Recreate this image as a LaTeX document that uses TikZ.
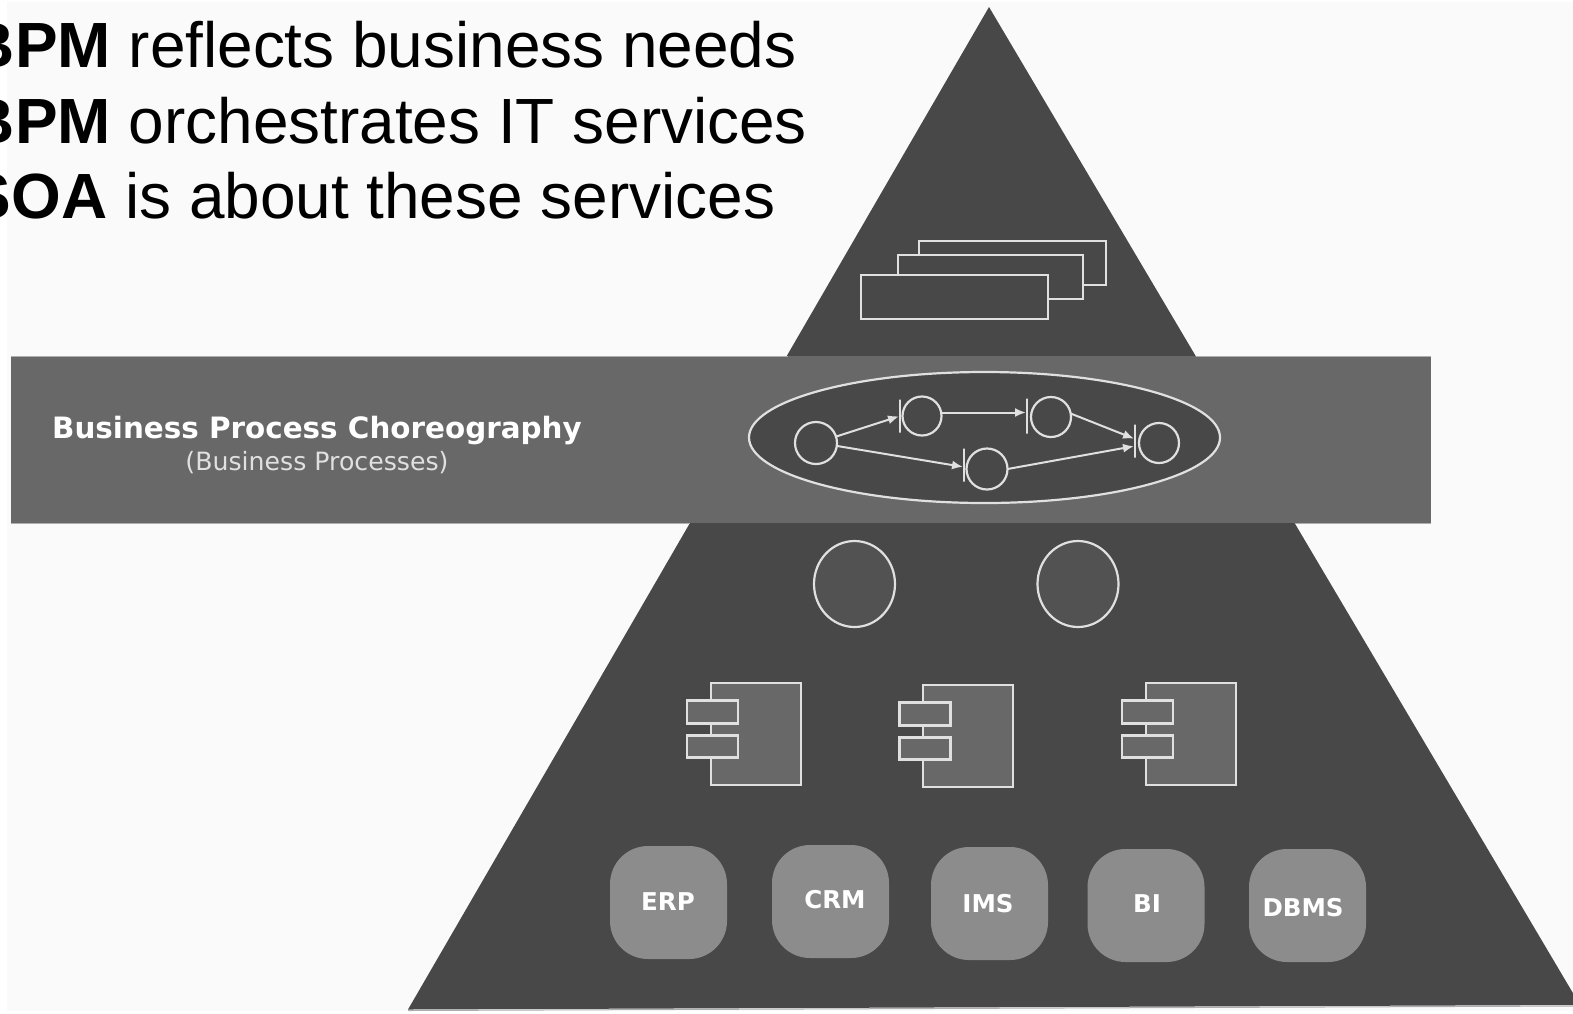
\documentclass[tikz,border=0pt]{standalone}
\usepackage{fontspec}
\setmainfont{Liberation Sans}
\newfontfamily\dejavu{DejaVu Sans}
\usetikzlibrary{arrows.meta,shapes.geometric}
\definecolor{pagebg}{HTML}{FAFAFA}
\definecolor{pyr}{HTML}{484848}
\definecolor{band}{HTML}{686868}
\definecolor{sysc}{HTML}{8C8C8C}
\definecolor{linec}{HTML}{E0E0E0}
\definecolor{svc}{HTML}{525252}
\tikzset{
  x=1pt,y=-1pt,
  every node/.style={inner sep=0pt,outer sep=0pt},
  headline/.style={anchor=base west,text=black,font=\fontsize{63.9}{64}\selectfont},
  docbox/.style={draw=linec,line width=2.8pt,fill=pyr},
  compbody/.style={draw=linec,line width=2.8pt,fill=band,minimum width=90pt,minimum height=102pt},
  comport/.style={draw=linec,line width=2.8pt,fill=band,minimum width=51pt,minimum height=22.5pt},
  sysbox/.style={fill=sysc,rounded corners=38pt,minimum width=117pt,minimum height=113pt},
  syslabel/.style={text=white,font=\dejavu\bfseries\fontsize{24.5}{24.5}\selectfont},
  place/.style={circle,draw=linec,line width=2.2pt,fill=pyr,minimum size=40pt},
  service/.style={ellipse,draw=linec,line width=2.2pt,fill=svc,minimum width=81pt,minimum height=86pt},
  bar/.style={draw=linec,line width=2.2pt,minimum width=0pt,minimum height=33pt},
  flow/.style={draw=linec,line width=2pt,-{Latex[length=11pt,width=9pt,color=linec]},shorten >=1pt},
}
\begin{document}
\begin{tikzpicture}
\useasboundingbox (0,0) rectangle (1573,1013);
\fill[white] (0,0) rectangle (1573,1013);
\fill[pagebg] (7,2) rectangle (1573,1011);
% pyramid
\draw[sysc!70!white,line width=1pt] (408,1010.5) -- (1580,1006);
\fill[pyr] (989,7) -- (1580,1005) -- (408,1009.5) -- cycle;
% band
\fill[band] (11,356) rectangle (1431,523);
\draw[sysc!70!white,line width=.8pt] (11,356) -- (788,356) (1196,356) -- (1431,356) (11,523) -- (690,523) (1295,523) -- (1431,523);
% headline
\node[headline] (l1) at (-31,67) {\textbf{BPM} reflects business needs};
\node[headline] (l2) at (-31,143) {\textbf{BPM} orchestrates IT services};
\node[headline] (l3) at (-31,218) {\textbf{SOA} is about these services};
% stacked documents
\node[docbox,minimum width=187pt,minimum height=44pt] (d3) at (1012.5,263) {};
\node[docbox,minimum width=185pt,minimum height=44pt] (d2) at (990.5,277) {};
\node[docbox,minimum width=187pt,minimum height=44pt] (d1) at (954.5,297) {};
% band text
\node[text=white,font=\dejavu\bfseries\fontsize{29.4}{29.4}\selectfont] (bpc) at (317,430) {Business Process Choreography};
\node[text=white!88!black,font=\dejavu\fontsize{25.2}{25.2}\selectfont] (bps) at (317,463) {(Business Processes)};
% process ellipse
\node[ellipse,draw=linec,line width=2.2pt,fill=pyr,minimum width=471pt,minimum height=131pt] (proc) at (984.5,437.5) {};
\node[place,minimum size=42pt] (p1) at (816,443) {};
\node[place,minimum size=39pt] (p2) at (922,416) {};
\node[place] (p3) at (1051,417) {};
\node[place] (p4) at (1159,443) {};
\node[place,minimum size=41pt] (p5) at (987,469) {};
\node[bar] (b2) at (900,416) {};
\node[bar,minimum height=35pt] (b3) at (1027,416) {};
\node[bar] (b4) at (1135,441) {};
\node[bar] (b5) at (964,465) {};
\draw[flow] (p1) -- (b2);
\draw[flow] ([yshift=3.5pt]p2.east) -- ([yshift=3.5pt]b3.center);
\draw[flow] (p3.10) -- ([yshift=2pt]b4.center);
\draw[flow] (p1.-8) -- ([yshift=-2pt]b5.center);
\draw[flow] (p5.east) -- ([yshift=-5pt]b4.center);
% services
\node[service] (s1) at (854.5,584) {};
\node[service] (s2) at (1078,584) {};
% components
\node[compbody] (c1) at (756,734) {};
\node[comport] (c1a) at (712.5,712) {};
\node[comport] (c1b) at (712.5,746.5) {};
\node[compbody] (c2) at (968,736) {};
\node[comport] (c2a) at (925,714) {};
\node[comport] (c2b) at (925,748.5) {};
\node[compbody] (c3) at (1191,734) {};
\node[comport] (c3a) at (1147.5,712) {};
\node[comport] (c3b) at (1147.5,746.5) {};
% systems
\node[sysbox] (erp) at (668.5,902.5) {};
\node[sysbox] (crm) at (830.5,901.5) {};
\node[sysbox] (ims) at (989.5,903.5) {};
\node[sysbox] (bi) at (1146,905.5) {};
\node[sysbox] (dbms) at (1307.5,905.5) {};
\node[syslabel] (terp) at (668,901.5) {ERP};
\node[syslabel] (tcrm) at (835,900) {CRM};
\node[syslabel] (tims) at (988,904) {IMS};
\node[syslabel] (tbi) at (1147,904) {BI};
\node[syslabel] (tdbms) at (1303,908) {DBMS};
\end{tikzpicture}
\end{document}
